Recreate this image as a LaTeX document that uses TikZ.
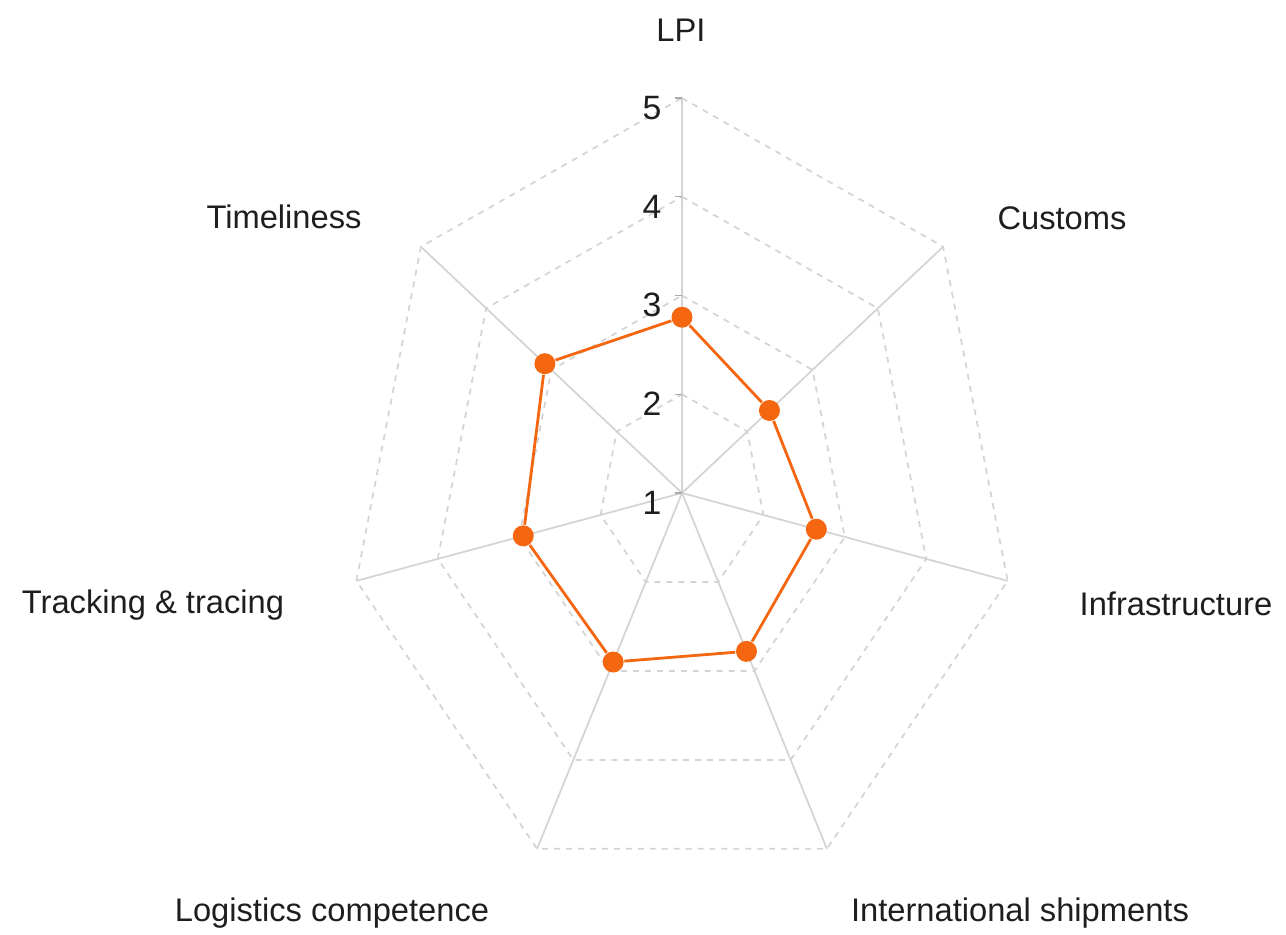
\documentclass[tikz,border=0pt]{standalone}
\usepackage{fontspec}
\setmainfont{Liberation Sans}
\usepackage{tikz}
\usetikzlibrary{positioning}
\definecolor{lpiOrange}{RGB}{244,102,16}
\definecolor{gridGray}{RGB}{212,212,212}
\definecolor{labelGray}{RGB}{30,30,30}
\tikzstyle{spoke} = [draw=gridGray, line width=0.5pt]
\tikzstyle{ring} = [draw=gridGray, dash pattern=on 1.7pt off 1.7pt, line width=0.5pt]
\tikzstyle{tickMark} = [draw=gridGray!80!black, line width=0.4pt]
\tikzstyle{dataNode} = [circle, minimum size = 0.21cm, inner sep=0pt, fill=lpiOrange]
\tikzstyle{dataLink} = [draw=lpiOrange, line width=0.8pt]
\tikzstyle{catLabel} = [font=\fontsize{9.3}{11}\selectfont, text=labelGray, inner sep=0pt]
\tikzstyle{numLabel} = [font=\fontsize{9.6}{11}\selectfont, text=labelGray, inner sep=0pt]

\begin{document}
\begin{tikzpicture}
                                \useasboundingbox (0,0) rectangle (12.86,9.35);
                                \begin{scope}[shift={(6.82,4.42)}, x=0.835cm, y=0.9875cm]
                                \coordinate (o) at (0,0);
                                \coordinate (lpi) at (90:4);
                                \coordinate (cus) at (38.571:4);
                                \coordinate (inf) at (-12.857:4);
                                \coordinate (int) at (-64.286:4);
                                \coordinate (log) at (-115.714:4);
                                \coordinate (trk) at (-167.143:4);
                                \coordinate (tim) at (141.429:4);
                                \foreach \r in {1,2,3,4}
                                    \draw [ring] (90:\r) -- (38.571:\r) -- (-12.857:\r) -- (-64.286:\r) -- (-115.714:\r) -- (-167.143:\r) -- (141.429:\r) -- cycle;
                                \draw [spoke] (o) -- (lpi);
                                \draw [spoke] (o) -- (cus);
                                \draw [spoke] (o) -- (inf);
                                \draw [spoke] (o) -- (int);
                                \draw [spoke] (o) -- (log);
                                \draw [spoke] (o) -- (trk);
                                \draw [spoke] (o) -- (tim);
                                \foreach \r/\v in {0/1,1/2,2/3,3/4,4/5} {
                                    \draw [tickMark] (-0.084,\r) -- (0,\r);
                                    \node (n\v) [numLabel] at (-0.36,\r-0.1) {\v};
                                }
                                \node (a) [dataNode] at (90:1.78) {};
                                \node (b) [dataNode] at (38.571:1.34) {};
                                \node (c) [dataNode] at (-12.857:1.65) {};
                                \node (d) [dataNode] at (-64.286:1.78) {};
                                \node (e) [dataNode] at (-115.714:1.9) {};
                                \node (f) [dataNode] at (-167.143:1.95) {};
                                \node (g) [dataNode] at (141.429:2.1) {};
                                \draw [dataLink] (a) -- (b);
                                \draw [dataLink] (b) -- (c);
                                \draw [dataLink] (c) -- (d);
                                \draw [dataLink] (d) -- (e);
                                \draw [dataLink] (e) -- (f);
                                \draw [dataLink] (f) -- (g);
                                \draw [dataLink] (g) -- (a);
                                \end{scope}
                                \node (lLPI) [catLabel] at (6.81,9.05) {LPI};
                                \node (lCus) [catLabel] at (10.62,7.17) {Customs};
                                \node (lInf) [catLabel] at (11.76,3.31) {Infrastructure};
                                \node (lInt) [catLabel] at (10.20,0.22) {International shipments};
                                \node (lLog) [catLabel] at (3.32,0.22) {Logistics competence};
                                \node (lTrk) [catLabel] at (1.53,3.30) {Tracking \& tracing};
                                \node (lTim) [catLabel] at (2.84,7.18) {Timeliness};
                            \end{tikzpicture}
\end{document}
